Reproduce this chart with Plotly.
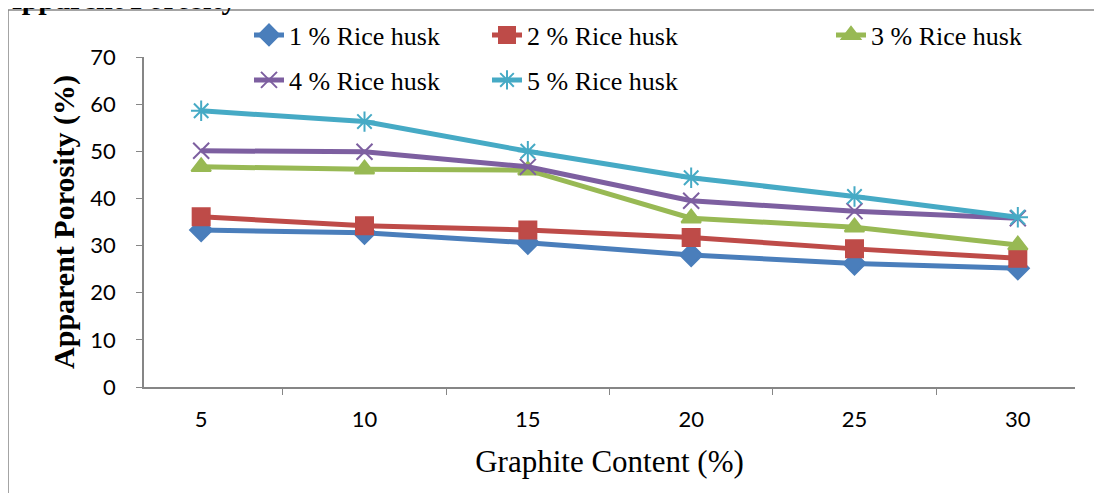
import plotly.graph_objects as go

graphite = ["5", "10", "15", "20", "25", "30"]
husk_1 = [33.3, 32.7, 30.6, 28.0, 26.2, 25.2]
husk_2 = [36.1, 34.2, 33.3, 31.7, 29.3, 27.3]
husk_3 = [46.7, 46.2, 46.0, 35.8, 33.9, 30.1]
husk_4 = [50.1, 49.9, 46.7, 39.5, 37.3, 35.8]
husk_5 = [58.6, 56.3, 50.0, 44.4, 40.4, 36.0]

series = [
    ("1 % Rice husk", husk_1, "#4A7EBB", "diamond", 17, "legend"),
    ("2 % Rice husk", husk_2, "#BE4B48", "square", 17, "legend"),
    ("3 % Rice husk", husk_3, "#98B954", "triangle-up", 17, "legend3"),
    ("4 % Rice husk", husk_4, "#7D5FA0", "x-thin-open", 16, "legend2"),
    ("5 % Rice husk", husk_5, "#46AAC5", "asterisk-open", 17, "legend2"),
]

fig = go.Figure()
for name, vals, color, sym, size, leg in series:
    fig.add_trace(go.Scatter(
        x=graphite, y=vals, name=name, mode="lines+markers",
        line=dict(color=color, width=5),
        marker=dict(symbol=sym, size=size, color=color,
                    line=dict(color=color, width=2)),
        legend=leg,
    ))

# the page body adds an 8px offset; positions below are screen pixels
O = 8
W, H = 1102, 493
L, T = 144 - O, 57 - O
R, B = W - (1075 - O), H - (387 - O)
pw, ph = W - L - R, H - T - B
px = lambda x: (x - O - L) / pw
py = lambda y: (H - B - (y - O)) / ph

leg_font = dict(family="Liberation Serif", size=26, color="black")
fig.update_layout(
    width=W, height=H,
    margin=dict(l=L, r=R, t=T, b=B, autoexpand=False),
    paper_bgcolor="white", plot_bgcolor="white",
    showlegend=True,
    legend=dict(orientation="h", x=px(249), y=py(35), xanchor="left", yanchor="middle",
                entrywidth=193, font=leg_font, bgcolor="rgba(0,0,0,0)"),
    legend2=dict(orientation="h", x=px(249), y=py(80), xanchor="left", yanchor="middle",
                 entrywidth=193, font=leg_font, bgcolor="rgba(0,0,0,0)"),
    legend3=dict(orientation="h", x=px(831), y=py(35), xanchor="left", yanchor="middle",
                 font=leg_font, bgcolor="rgba(0,0,0,0)"),
    xaxis=dict(
        type="category", showline=True, linecolor="#868686", linewidth=1.5,
        ticks="outside", tickson="boundaries", ticklen=6, tickcolor="#868686",
        showgrid=False, zeroline=False, automargin=False,
        tickfont=dict(family="Lato", size=22, color="black"),
        ticklabelstandoff=12,
        title=dict(text="Graphite Content (%)",
                   font=dict(family="Liberation Serif", size=31, color="black"),
                   standoff=19),
    ),
    yaxis=dict(
        range=[0, 70], dtick=10, showline=True, linecolor="#868686", linewidth=1.5,
        ticks="outside", ticklen=6, tickcolor="#868686",
        showgrid=False, zeroline=False, automargin=False,
        tickfont=dict(family="Lato", size=22, color="black"),
        ticklabelstandoff=16,
        title=dict(text="<b>Apparent Porosity (%)</b>",
                   font=dict(family="Liberation Serif", size=30, color="black"),
                   standoff=7),
    ),
    shapes=[dict(type="rect", xref="paper", yref="paper",
                 x0=px(8), x1=px(1120), y0=py(510), y1=py(10),
                 line=dict(color="#868686", width=1.5), layer="below")],
    annotations=[dict(text="<b>Apparent Porosity</b>", xref="paper", yref="paper",
                      x=px(-2), y=py(17), xanchor="left", yanchor="bottom",
                      showarrow=False,
                      font=dict(family="Liberation Serif", size=30, color="black"))],
)

fig.write_html("out.html")
